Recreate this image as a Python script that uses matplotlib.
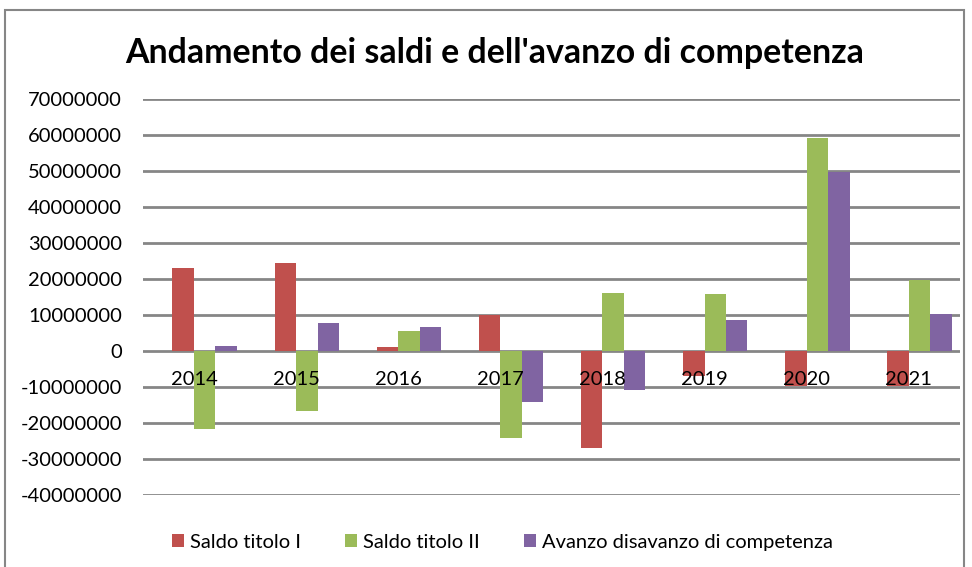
import numpy as np
import matplotlib.pyplot as plt
from matplotlib.patches import Rectangle

plt.rcParams['font.family'] = ['Lato', 'DejaVu Sans']

# dati
anni = ['2014', '2015', '2016', '2017', '2018', '2019', '2020', '2021']
saldo_titolo_1 = [23100000, 24400000, 1100000, 10000000, -26900000, -7000000, -9800000, -9800000]
saldo_titolo_2 = [-21700000, -16700000, 5600000, -24200000, 16100000, 15800000, 59200000, 19700000]
avanzo = [1400000, 7800000, 6700000, -14200000, -10800000, 8600000, 49700000, 10300000]

nomi = ['Saldo titolo I', 'Saldo titolo II', 'Avanzo disavanzo di competenza']
colori = ['#C0504D', '#9BBB59', '#8064A2']
yticks = list(range(-40000000, 70000001, 10000000))

fig = plt.figure(figsize=(9.72, 5.67), dpi=100)
ax = fig.add_axes([0.147, 0.127, 0.8405, 0.698])

# griglia disegnata sotto le barre, etichette sopra
for v in yticks:
    ax.axhline(v, color='#868686', linewidth=2, zorder=0.5)

x = np.arange(len(anni))
w = 0.21
for i, (serie, c, nome) in enumerate(zip([saldo_titolo_1, saldo_titolo_2, avanzo], colori, nomi)):
    ax.bar(x + (i - 0.5) * w, serie, width=w, color=c, label=nome, zorder=1)

ax.set_xlim(-0.5, len(anni) - 0.5)
ax.set_ylim(-40000000, 70000000)
ax.set_yticks(yticks)
ax.set_yticklabels([str(v) for v in yticks])
ax.set_xticks(x)
ax.set_xticklabels(anni)
ax.spines['bottom'].set_position(('data', 0))
ax.spines['bottom'].set_visible(False)
for s in ['top', 'right', 'left']:
    ax.spines[s].set_visible(False)
ax.tick_params(axis='both', length=0, labelsize=14.5)
ax.tick_params(axis='x', pad=14)
ax.tick_params(axis='y', pad=15)

fig.suptitle("Andamento dei saldi e dell'avanzo di competenza", fontsize=24.4,
             fontweight='bold', x=0.509, y=0.935)

ax.legend(loc='center', bbox_to_anchor=(0.44, -0.12), ncol=3, frameon=False,
          fontsize=14.5, handlelength=0.6, handleheight=0.6, columnspacing=2.2,
          handletextpad=0.3)

fig.patches.append(Rectangle((0.005, -0.02), 0.987, 1.002, transform=fig.transFigure,
                             fill=False, edgecolor='#868686', linewidth=1.5))

fig.savefig('out.png', dpi=100)
